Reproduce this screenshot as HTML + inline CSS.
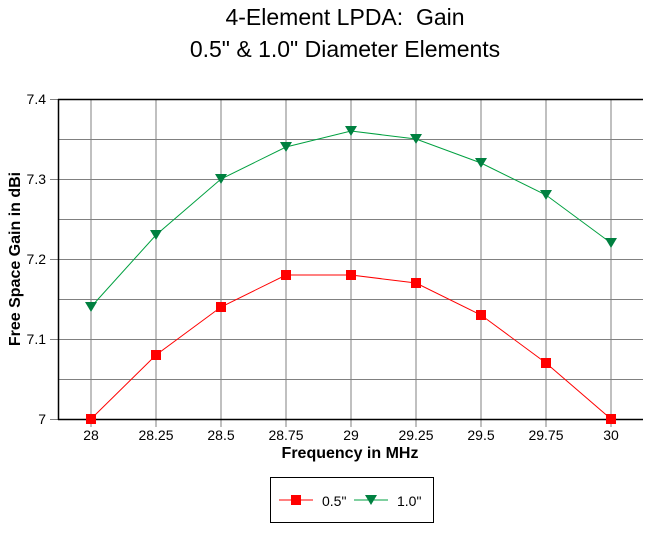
<!DOCTYPE html><html><head><style>body{margin:0;background:#fff}</style></head><body>
<svg width="647" height="528" xmlns="http://www.w3.org/2000/svg" font-family="Liberation Sans, Arial, sans-serif">
<rect width="647" height="528" fill="#fff"/>
<text x="345" y="25" font-size="23" text-anchor="middle">4-Element LPDA:&#160; Gain</text>
<text x="345" y="57" font-size="23" text-anchor="middle">0.5" &amp; 1.0" Diameter Elements</text>
<g stroke="#808080" stroke-width="1">
<line x1="58" y1="139.5" x2="643" y2="139.5"/><line x1="50" y1="179.5" x2="643" y2="179.5"/>
<line x1="58" y1="219.5" x2="643" y2="219.5"/><line x1="50" y1="259.5" x2="643" y2="259.5"/>
<line x1="58" y1="299.5" x2="643" y2="299.5"/><line x1="50" y1="339.5" x2="643" y2="339.5"/>
<line x1="58" y1="379.5" x2="643" y2="379.5"/>
<line x1="50" y1="99.5" x2="58" y2="99.5"/><line x1="50" y1="419.5" x2="58" y2="419.5"/>
<line x1="91" y1="99" x2="91" y2="427"/><line x1="156" y1="99" x2="156" y2="427"/>
<line x1="221" y1="99" x2="221" y2="427"/><line x1="286" y1="99" x2="286" y2="427"/>
<line x1="351" y1="99" x2="351" y2="427"/><line x1="416" y1="99" x2="416" y2="427"/>
<line x1="481" y1="99" x2="481" y2="427"/><line x1="546" y1="99" x2="546" y2="427"/>
<line x1="611" y1="99" x2="611" y2="427"/>
</g>
<g stroke="#000" stroke-width="1.5">
<line x1="58" y1="99.5" x2="643" y2="99.5"/><line x1="58.5" y1="99" x2="58.5" y2="420"/>
<line x1="58" y1="419.5" x2="643" y2="419.5"/></g>
<g font-size="14" text-anchor="end">
<text x="46" y="104">7.4</text><text x="46" y="184">7.3</text><text x="46" y="264">7.2</text>
<text x="46" y="344">7.1</text><text x="46" y="424">7</text></g>
<g font-size="14" text-anchor="middle">
<text x="91" y="440">28</text><text x="156" y="440">28.25</text><text x="221" y="440">28.5</text>
<text x="286" y="440">28.75</text><text x="351" y="440">29</text><text x="416" y="440">29.25</text>
<text x="481" y="440">29.5</text><text x="546" y="440">29.75</text><text x="611" y="440">30</text></g>
<text x="350" y="458" font-size="16" font-weight="bold" text-anchor="middle">Frequency in MHz</text>
<text transform="translate(20,259) rotate(-90)" font-size="16" font-weight="bold" text-anchor="middle">Free Space Gain in dBi</text>
<polyline fill="none" stroke="#f00" points="91,419 156,355 221,307 286,275 351,275 416,283 481,315 546,363 611,419"/>
<g fill="#f00">
<rect x="86" y="414" width="10" height="10"/><rect x="151" y="350" width="10" height="10"/>
<rect x="216" y="302" width="10" height="10"/><rect x="281" y="270" width="10" height="10"/>
<rect x="346" y="270" width="10" height="10"/><rect x="411" y="278" width="10" height="10"/>
<rect x="476" y="310" width="10" height="10"/><rect x="541" y="358" width="10" height="10"/>
<rect x="606" y="414" width="10" height="10"/></g>
<polyline fill="none" stroke="#00a040" points="91,307 156,235 221,179 286,147 351,131 416,139 481,163 546,195 611,243"/>
<g fill="#008040">
<path d="M85,302h12l-6,10z"/><path d="M150,230h12l-6,10z"/><path d="M215,174h12l-6,10z"/>
<path d="M280,142h12l-6,10z"/><path d="M345,126h12l-6,10z"/><path d="M410,134h12l-6,10z"/>
<path d="M475,158h12l-6,10z"/><path d="M540,190h12l-6,10z"/><path d="M605,238h12l-6,10z"/></g>
<rect x="270.5" y="477.5" width="163" height="45" fill="none" stroke="#000"/>
<line x1="279" y1="500" x2="313" y2="500" stroke="#f00"/><rect x="291" y="495" width="10" height="10" fill="#f00"/>
<text x="322" y="506" font-size="14">0.5"</text>
<line x1="354" y1="500" x2="388" y2="500" stroke="#00a040"/><path d="M365,495h12l-6,10z" fill="#008040"/>
<text x="397" y="506" font-size="14">1.0"</text>
</svg>
</body></html>
